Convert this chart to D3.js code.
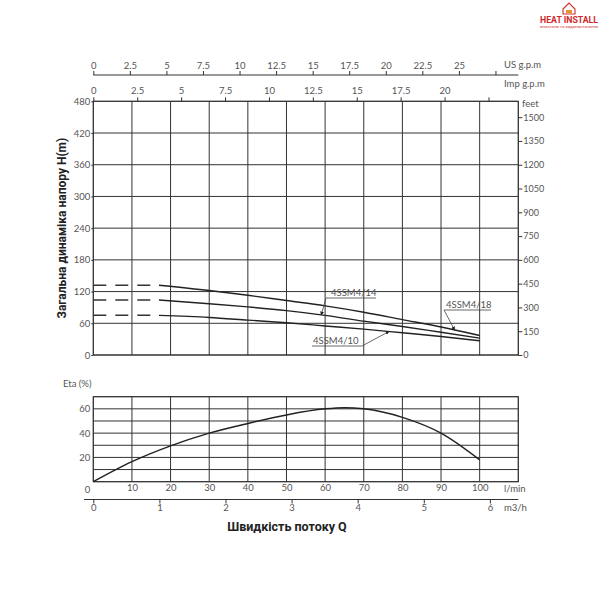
<!DOCTYPE html>
<html>
<head>
<meta charset="utf-8">
<script src="https://cdn.jsdelivr.net/npm/d3@7"></script>
<style>
  body { margin: 0; background: #fff; }
  svg text { font-family: Lato, "Open Sans", sans-serif; }
</style>
</head>
<body>
<div id="container"></div>
<script>
// head curves, flow in l/min, head in m
const flowLpm = [17, 30, 40, 50, 60, 70, 80, 90, 100];
const head18 = [132, 122, 113, 103, 93, 81, 67, 53, 37];
const head14 = [104, 97, 91, 84, 75, 64, 54, 43, 32];
const head10 = [75, 71, 66, 61, 55, 49, 42, 35, 27];
const shutoffFlow = 0;

// efficiency curve
const etaFlow = [0, 10, 20, 30, 40, 50, 60, 65, 70, 80, 90, 100];
const etaVals = [0, 16.5, 29.5, 40, 48, 55, 60, 61, 60, 53, 40, 18];

// axis ticks
const usTicks = [0, 2.5, 5, 7.5, 10, 12.5, 15, 17.5, 20, 22.5, 25, 27.5];
const impTicks = [0, 2.5, 5, 7.5, 10, 12.5, 15, 17.5, 20, 22.5];
const headTicks = [0, 60, 120, 180, 240, 300, 360, 420, 480];
const feetTicks = [0, 150, 300, 450, 600, 750, 900, 1050, 1200, 1350, 1500];
const lpmTicks = [10, 20, 30, 40, 50, 60, 70, 80, 90, 100];
const etaTicks = [0, 20, 40, 60];
const m3hTicks = [0, 1, 2, 3, 4, 5, 6];

const width = 600, height = 600;
const left = 93.3, right = 518.3;
const hTop = 101.3, hBottom = 355;
const eTop = 396.7, eBottom = 481.7;
const gridColor = "#333";
const labelColor = "#555";

const svg = d3.select("#container").append("svg")
  .attr("width", width).attr("height", height);
svg.append("rect").attr("width", width).attr("height", height).attr("fill", "#fff");

const x = d3.scaleLinear().domain([0, 110]).range([left, right]);
const xUs = d3.scaleLinear().domain([0, 110 / 3.785]).range([left, right]);
const xImp = d3.scaleLinear().domain([0, 110 / 4.546]).range([left, right]);
const xM3h = d3.scaleLinear().domain([0, 6.43]).range([left, right]);
const yH = d3.scaleLinear().domain([0, 480]).range([hBottom, hTop]);
const yFt = d3.scaleLinear().domain([0, 1600]).range([hBottom, hTop]);
const yE = d3.scaleLinear().domain([0, 70]).range([eBottom, eTop]);

const styleAxis = (g, size) => {
  g.select(".domain").remove();
  g.selectAll(".tick line").attr("stroke", gridColor);
  g.selectAll(".tick text").attr("fill", labelColor).style("font-size", size + "px");
};

// ---- head chart grid ----
const grid = svg.append("g").attr("stroke", gridColor).attr("stroke-width", 1).attr("fill", "none");
grid.selectAll(".hg").data(headTicks).enter().append("line")
  .attr("x1", left).attr("x2", right)
  .attr("y1", (d) => yH(d)).attr("y2", (d) => yH(d));
grid.selectAll(".vg").data(d3.range(0, 111, 10)).enter().append("line")
  .attr("x1", (d) => x(d)).attr("x2", (d) => x(d))
  .attr("y1", hTop).attr("y2", hBottom);
grid.append("rect").attr("x", left).attr("y", hTop)
  .attr("width", right - left).attr("height", hBottom - hTop);

// left head axis
svg.append("g").attr("transform", `translate(${left},0)`)
  .call(d3.axisLeft(yH).tickValues(headTicks).tickSize(2).tickPadding(1))
  .call((g) => styleAxis(g, 9.5));

// right feet axis
svg.append("g").attr("transform", `translate(${right},0)`)
  .call(d3.axisRight(yFt).tickValues(feetTicks).tickSize(4).tickPadding(1).tickFormat(d3.format("d")))
  .call((g) => styleAxis(g, 9));

// Imp g.p.m axis on the plot top
svg.append("g").attr("transform", `translate(0,${hTop})`)
  .call(d3.axisTop(xImp).tickValues(impTicks).tickSize(4).tickPadding(3)
    .tickFormat((d) => (d === 22.5 ? "" : d)))
  .call((g) => styleAxis(g, 9.5));

// US g.p.m axis
const usAxis = svg.append("g").attr("transform", "translate(0,75)")
  .call(d3.axisTop(xUs).tickValues(usTicks).tickSize(4).tickPadding(2)
    .tickFormat((d) => (d === 27.5 ? "" : d)))
  .call((g) => styleAxis(g, 9.5));
usAxis.append("line").attr("x1", left).attr("x2", right).attr("stroke", gridColor);

const unitText = (tx, ty, t, anchor) =>
  svg.append("text").attr("x", tx).attr("y", ty).attr("fill", labelColor)
    .style("font-size", "9.5px").attr("text-anchor", anchor || "start").text(t);
unitText(504, 68, "US g.p.m");
unitText(504, 87, "Imp g.p.m");
unitText(522, 107, "feet");

// y title
svg.append("text")
  .attr("transform", `translate(66,${(hTop + hBottom) / 2}) rotate(-90)`)
  .attr("text-anchor", "middle")
  .style("font-family", "Roboto, sans-serif").style("font-weight", "bold")
  .style("font-size", "12px").attr("fill", "#222")
  .text("Загальна динаміка напору H(m)");

// ---- head curves ----
const line = d3.line().x((d) => x(d[0])).y((d) => yH(d[1])).curve(d3.curveMonotoneX);
[head18, head14, head10].forEach((h) => {
  svg.append("path")
    .attr("d", line([[shutoffFlow, h[0]], [flowLpm[0], h[0]]]))
    .attr("fill", "none").attr("stroke", "#333").attr("stroke-width", 1.5)
    .attr("stroke-dasharray", "13,9");
  svg.append("path")
    .attr("d", line(flowLpm.map((f, i) => [f, h[i]])))
    .attr("fill", "none").attr("stroke", "#222").attr("stroke-width", 1.4);
});

// curve labels with leaders
svg.append("defs").append("marker").attr("id", "arr")
  .attr("viewBox", "0 0 6 6").attr("refX", 5).attr("refY", 3)
  .attr("markerWidth", 5).attr("markerHeight", 5).attr("orient", "auto")
  .append("path").attr("d", "M0,0L6,3L0,6Z").attr("fill", "#222");

const curveLabels = [
  { name: "4SSM4/14", tx: 331, ty: 296, ux1: 326, ux2: 376, uy: 298, px: 59, curve: head14 },
  { name: "4SSM4/18", tx: 446, ty: 308, ux1: 444, ux2: 491, uy: 310, px: 93.5, curve: head18 },
  { name: "4SSM4/10", tx: 313, ty: 344, ux1: 312, ux2: 362, uy: 346, px: 76.5, curve: head10 }
];
const interp = (arr, f) => {
  const i = d3.bisectRight(flowLpm, f) - 1;
  const t = (f - flowLpm[i]) / (flowLpm[i + 1] - flowLpm[i]);
  return arr[i] + t * (arr[i + 1] - arr[i]);
};
curveLabels.forEach((c) => {
  svg.append("text").attr("x", c.tx).attr("y", c.ty)
    .attr("fill", labelColor).style("font-size", "9.5px").text(c.name);
  svg.append("line").attr("x1", c.ux1).attr("x2", c.ux2)
    .attr("y1", c.uy).attr("y2", c.uy).attr("stroke", "#444").attr("stroke-width", 0.8);
  const startX = c.name === "4SSM4/10" ? c.ux2 : c.ux1;
  svg.append("line").attr("x1", startX).attr("y1", c.uy)
    .attr("x2", x(c.px)).attr("y2", yH(interp(c.curve, c.px)))
    .attr("stroke", "#444").attr("stroke-width", 0.8).attr("marker-end", "url(#arr)");
});

// ---- efficiency chart ----
const egrid = svg.append("g").attr("stroke", gridColor).attr("stroke-width", 1).attr("fill", "none");
egrid.selectAll(".hg").data(d3.range(0, 71, 10)).enter().append("line")
  .attr("x1", left).attr("x2", right)
  .attr("y1", (d) => yE(d)).attr("y2", (d) => yE(d));
egrid.selectAll(".vg").data(d3.range(0, 111, 10)).enter().append("line")
  .attr("x1", (d) => x(d)).attr("x2", (d) => x(d))
  .attr("y1", eTop).attr("y2", eBottom);
egrid.append("rect").attr("x", left).attr("y", eTop)
  .attr("width", right - left).attr("height", eBottom - eTop);

const eAxis = svg.append("g").attr("transform", `translate(${left},0)`)
  .call(d3.axisLeft(yE).tickValues(etaTicks).tickSize(0).tickPadding(3))
  .call((g) => styleAxis(g, 9.5));
eAxis.selectAll(".tick text").filter((d) => d === 0).attr("dy", "1.1em");

svg.append("g").attr("transform", `translate(0,${eBottom})`)
  .call(d3.axisBottom(x).tickValues(lpmTicks).tickSize(0).tickPadding(3))
  .call((g) => styleAxis(g, 9.5));
unitText(504, 492, "l/min");
svg.append("text").attr("x", 63).attr("y", 387).attr("fill", labelColor)
  .style("font-size", "9.5px").text("Eta (%)");

svg.append("path")
  .attr("d", d3.line().x((d) => x(d[0])).y((d) => yE(d[1])).curve(d3.curveMonotoneX)(
    etaFlow.map((f, i) => [f, etaVals[i]])))
  .attr("fill", "none").attr("stroke", "#222").attr("stroke-width", 1.5);

// m3/h axis
const mAxis = svg.append("g").attr("transform", "translate(0,499.5)")
  .call(d3.axisBottom(xM3h).tickValues(m3hTicks).tickSize(4).tickPadding(1).tickFormat(d3.format("d")))
  .call((g) => styleAxis(g, 9.5));
mAxis.append("line").attr("x1", 84).attr("x2", right).attr("stroke", gridColor);
unitText(504, 511, "m3/h");

svg.append("text").attr("x", 287).attr("y", 531).attr("text-anchor", "middle")
  .style("font-family", "Roboto, sans-serif").style("font-weight", "bold")
  .style("font-size", "12.5px").attr("fill", "#222").text("Швидкість потоку Q");

// ---- logo ----
const logo = svg.append("g");
logo.append("path").attr("d", "M563,9 L569,3 L575,9 L575,14 L563,14 Z")
  .attr("fill", "none").attr("stroke", "#c9302c").attr("stroke-width", 1.1);
logo.append("rect").attr("x", 566).attr("y", 10).attr("width", 6).attr("height", 3).attr("fill", "#e8912d");
logo.append("text").attr("x", 540).attr("y", 23)
  .attr("textLength", 58).attr("lengthAdjust", "spacingAndGlyphs")
  .style("font-family", "Roboto, sans-serif").style("font-weight", "bold")
  .style("font-size", "9px").attr("fill", "#d0282c").text("HEAT INSTALL");
logo.append("text").attr("x", 540).attr("y", 28)
  .attr("textLength", 58).attr("lengthAdjust", "spacingAndGlyphs")
  .style("font-size", "3.6px").attr("fill", "#d0282c").text("опалення та водопостачання");
</script>
</body>
</html>
